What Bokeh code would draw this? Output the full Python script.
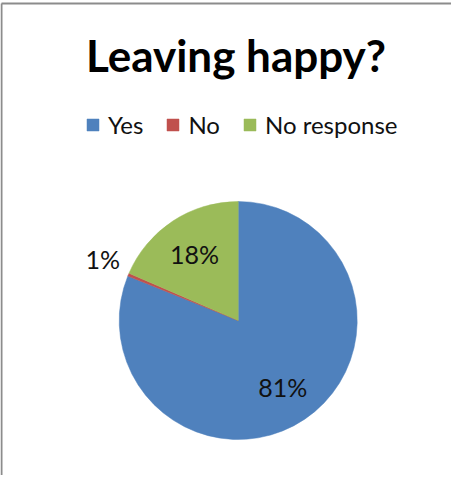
import math
from bokeh.plotting import figure
from bokeh.models import Range1d, ColumnDataSource, Legend, LegendItem
from bokeh.core.properties import value
from bokeh.embed import file_html
from bokeh.resources import INLINE

# ---- data ----
categories = ["Yes", "No", "No response"]
shares = [81.1, 0.4, 18.5]
labels = ["81%", "1%", "18%"]
colors = ["#4F81BD", "#C0504D", "#9BBB59"]
title_text = "Leaving happy?"

W, H = 451, 475
FONT = "Lato"

p = figure(width=W, height=H, output_backend="svg", toolbar_location=None,
           x_range=Range1d(0, W), y_range=Range1d(0, H), min_border=0)
p.axis.visible = False
p.grid.visible = False
p.outline_line_color = None
p.background_fill_color = "white"
p.border_fill_color = "white"

# chart area border (left and top edges; right/bottom cropped away)
p.segment(x0=[1, 1], y0=[-10, H - 3], x1=[1, W + 10], y1=[H - 3, H - 3],
          line_color="#8c8c8c", line_width=2)

# pie geometry
cx, cy, r = 237.7, H - 320.0, 119.0
total = sum(shares)
starts, ends, mids = [], [], []
a = math.pi / 2
for s in shares:
    span = 2 * math.pi * s / total
    starts.append(a - span)
    ends.append(a)
    mids.append(a - span / 2)
    a -= span

src = ColumnDataSource(dict(cat=categories, start=starts, end=ends, color=colors))
w = p.wedge(x=cx, y=cy, radius=r, start_angle="start", end_angle="end",
            fill_color="color", line_color="color", line_width=0.5, source=src)

# data labels
lx, ly = [], []
for s, m in zip(shares, mids):
    if s / total < 0.02:
        rr, m = r * 1.25, m - 0.03
    else:
        rr = r * 0.67
    lx.append(cx + rr * math.cos(m))
    ly.append(cy + rr * math.sin(m))
lsrc = ColumnDataSource(dict(x=lx, y=ly, t=labels))
p.text(x="x", y="y", text="t", source=lsrc, text_font=value(FONT),
       text_font_size="25px", text_color="#111111", text_align="center",
       text_baseline="middle")

# title
p.text(x=[235.5], y=[H - 54], text=[title_text], text_font=value(FONT),
       text_font_style="bold", text_font_size="44px", text_color="black",
       text_align="center", text_baseline="middle")

# legend
items = [LegendItem(label=c, renderers=[w], index=i) for i, c in enumerate(categories)]
legend = Legend(items=items, orientation="horizontal", location=(85, H - 139),
                label_text_font=FONT, label_text_font_size="24px",
                label_text_color="#111111",
                glyph_width=15, glyph_height=15, label_standoff=8, spacing=22,
                padding=0, margin=0, border_line_color=None,
                background_fill_alpha=0)
p.add_layout(legend, "center")

open("out.html", "w").write(file_html(p, INLINE))
